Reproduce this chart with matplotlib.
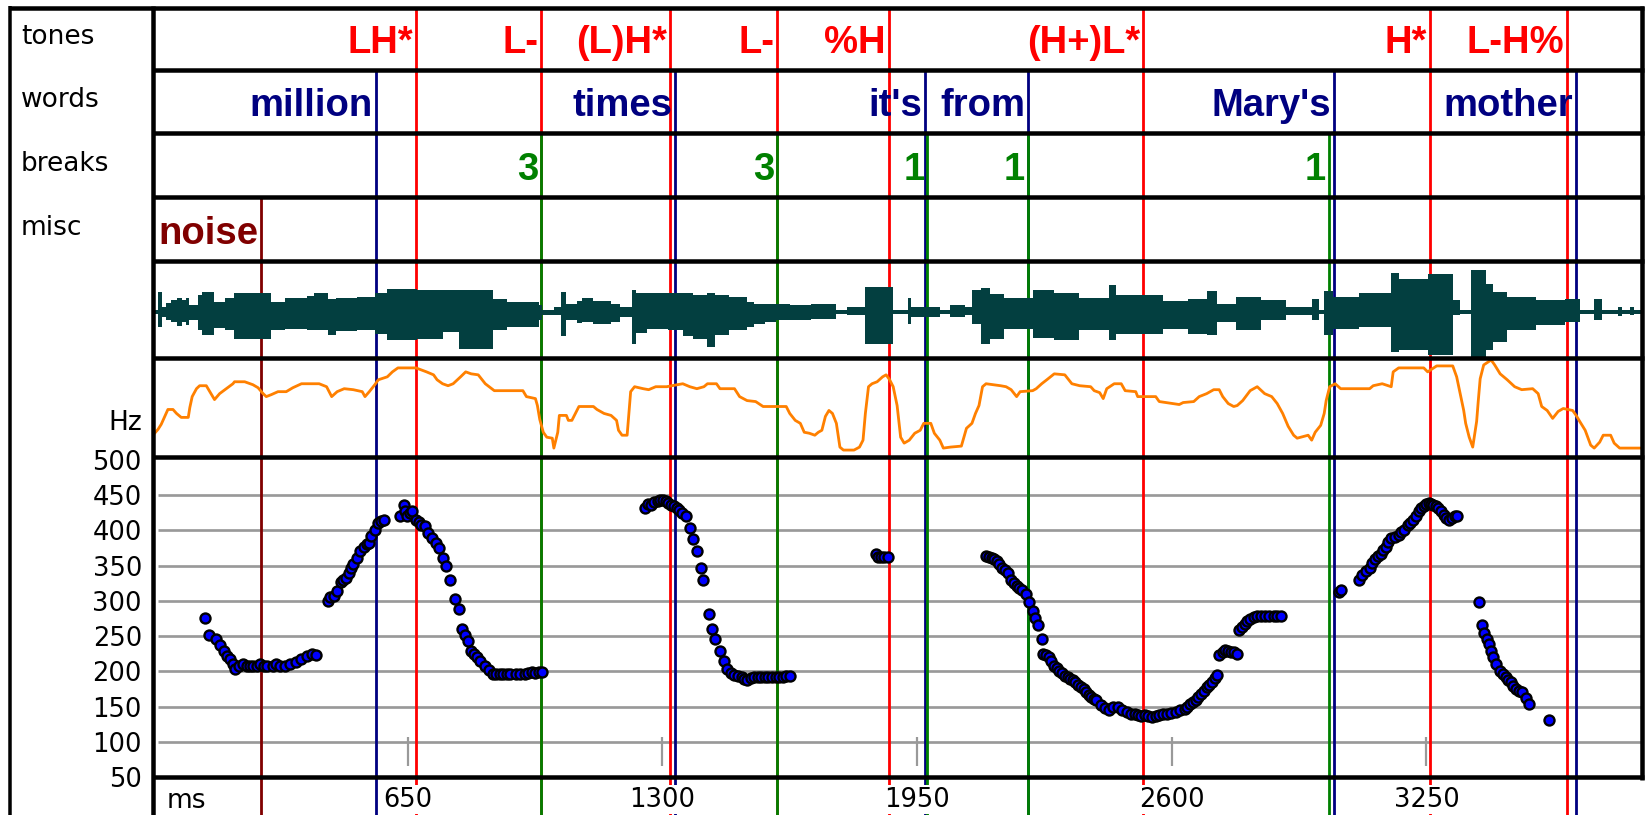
import numpy as np
import matplotlib.pyplot as plt
from matplotlib.lines import Line2D

# --- annotation tiers (boundary time in ms, label) ---
tone_times = [672, 990, 1320, 1593, 1878, 2527, 3258, 3609]
tone_labels = ['LH*', 'L-', '(L)H*', 'L-', '%H', '(H+)L*', 'H*', 'L-H%']
word_times = [568, 1333, 1969, 2233, 3014, 3632]
word_labels = ['million', 'times', "it's", 'from', "Mary's", 'mother']
break_times = [990, 1593, 1976, 2233, 3000]
break_labels = ['3', '3', '1', '1', '1']
misc_times = [276]
misc_labels = ['noise']

# --- waveform envelope (step), ms / amplitude ---
wave_t = [0, 14, 23, 33, 46, 60, 74, 83, 92, 115, 124, 156, 183, 206, 302, 338, 393, 411,
          447, 466, 520, 566, 598, 675, 739, 780, 867, 903, 985, 994, 1023, 1042, 1055,
          1083, 1096, 1124, 1169, 1192, 1222, 1233, 1260, 1315, 1352, 1379, 1415, 1434,
          1470, 1516, 1534, 1561, 1589, 1625, 1680, 1744, 1771, 1816, 1889, 1926, 1935,
          2008, 2035, 2072, 2090, 2113, 2135, 2172, 2245, 2300, 2363, 2439, 2457, 2578,
          2642, 2689, 2716, 2763, 2827, 2892, 2957, 2975, 2989, 3012, 3077, 3160, 3179,
          3253, 3317, 3336, 3364, 3401, 3419, 3456, 3530, 3604, 3641, 3678, 3697, 3740,
          3750, 3770, 3780, 3800]
wave_hi = [2, 20, 5, 9, 12, 14, 12, 14, 7, 17, 20, 10, 14, 19, 10, 14, 16, 19,
           13, 14, 15, 19, 23, 22, 22, 22, 13, 10, 7, 2, 5, 20, 8,
           11, 14, 11, 8, 5, 22, 19, 19, 19, 19, 17, 19, 17,
           15, 10, 8, 8, 8, 7, 8, 2, 5, 25, 2, 14, 5,
           2, 7, 5, 22, 24, 18, 14, 22, 19, 14, 27, 17, 11,
           13, 21, 8, 15, 12, 5, 13, 2, 21, 15, 19, 39, 33,
           38, 12, 2, 42, 28, 20, 15, 12, 13, 2, 13, 2, 5,
           2, 5, 2, 2]
wave_lo = [-2, -15, -5, -8, -10, -14, -10, -13, -8, -18, -23, -16, -18, -27, -18, -17, -18, -18,
           -23, -19, -18, -22, -28, -27, -20, -37, -18, -15, -8, -3, -3, -24, -8,
           -11, -10, -12, -10, -5, -32, -21, -17, -18, -24, -27, -35, -23,
           -18, -15, -12, -10, -8, -8, -7, -2, -3, -32, -2, -12, -5,
           -2, -5, -3, -12, -32, -27, -17, -26, -28, -18, -28, -22, -17,
           -22, -23, -10, -18, -8, -3, -8, -2, -23, -17, -15, -40, -38,
           -43, -3, -2, -45, -38, -30, -18, -13, -10, -2, -8, -2, -4,
           -2, -3, -2, -2]

# --- raw pitch track (ms / relative level) ---
track_t = [0, 2, 13, 21, 30, 38, 51, 60, 72, 90, 94, 100, 111, 119, 136, 145, 157, 170,
           187, 204, 208, 234, 255, 268, 281, 289, 302, 319, 340, 357, 379, 424, 443, 456,
           470, 488, 511,
           534, 541, 552, 566, 575, 598, 611, 625, 671, 698, 716, 725, 739, 753, 766, 785,
           798, 812, 830, 848, 871, 944, 953, 976, 981, 987, 996, 1005, 1019, 1023, 1033,
           1037, 1055, 1060, 1069, 1078, 1087, 1124, 1133, 1151, 1169, 1183, 1188, 1197,
           1210, 1215, 1219, 1229, 1251, 1265, 1283, 1311, 1324, 1352, 1370, 1388, 1406,
           1415, 1438, 1447, 1461, 1484, 1497, 1516, 1538, 1557, 1589, 1616, 1625, 1639,
           1652, 1662, 1675, 1689, 1698, 1707, 1716, 1725, 1734, 1744, 1753, 1762, 1789,
           1803, 1812, 1818, 1826, 1835, 1848, 1862, 1871, 1880, 1889, 1899, 1908, 1917,
           1930, 1944, 1958, 1967, 1985, 1994, 2008, 2017, 2035, 2063, 2076, 2090, 2099,
           2108, 2117, 2126, 2163, 2177, 2190, 2204, 2213, 2245, 2254, 2268, 2281, 2300,
           2327, 2345, 2365, 2393, 2402, 2416, 2425, 2434, 2453, 2471, 2481, 2508, 2513,
           2559, 2568, 2619, 2629, 2656, 2670, 2689, 2707, 2721, 2730, 2744, 2758, 2767,
           2781, 2800, 2818, 2837, 2855, 2869, 2883, 2897, 2911, 2920, 2948, 2957, 2966,
           2980, 2989, 2994, 3003, 3017, 3031, 3105, 3114, 3137, 3160, 3165, 3179, 3243,
           3253, 3276, 3317, 3327, 3336, 3345, 3350, 3359, 3368, 3378, 3382, 3387, 3396,
           3415, 3424, 3438, 3456, 3475, 3493, 3521, 3535, 3544, 3558, 3572, 3586, 3599,
           3623, 3632, 3641, 3655, 3669, 3678, 3692, 3701, 3720, 3729, 3743, 3800]
track_lvl = [4, 23, 28, 33, 41, 48, 48, 44, 40, 40, 50, 61, 69, 72, 72, 66, 58, 64,
             69, 74, 76, 76, 73, 70, 64, 61, 63, 66, 66, 70, 74, 74, 71, 61,
             66, 69, 68,
             66, 61, 66, 73, 78, 81, 86, 90, 90, 86, 83, 78, 74, 72, 74, 81,
             86, 84, 83, 74, 67, 67, 61, 59, 52, 38, 25, 20, 19, 9, 25,
             42, 42, 37, 37, 44, 51, 51, 48, 44, 42, 37, 27, 22,
             22, 47, 66, 71, 69, 68, 71, 71, 72, 74, 71, 69, 71,
             74, 74, 69, 69, 69, 61, 57, 56, 51, 51, 51, 44, 37,
             34, 25, 24, 22, 25, 27, 41, 47, 44, 34, 10, 7, 7,
             10, 17, 44, 71, 74, 76, 81, 83, 78, 71, 52, 20, 14,
             17, 24, 27, 34, 34, 24, 17, 9, 10, 11, 29, 34, 44,
             52, 71, 74, 72, 71, 68, 61, 66, 67, 69, 74, 78, 84,
             83, 74, 72, 71, 67, 65, 59, 69, 74, 74, 67, 66, 61,
             61, 56, 53, 55, 56, 61, 64, 68, 68, 61, 54, 51, 52,
             57, 67, 71, 64, 61, 54, 44, 31, 22, 19, 22, 17, 25,
             32, 44, 57, 71, 74, 69, 69, 72, 74, 71, 86, 90, 90,
             86, 92, 92, 81, 64, 47, 34, 20, 10, 36, 56, 79, 93,
             98, 93, 84, 78, 71, 68, 69, 64, 51, 47, 39, 46, 49,
             47, 42, 36, 27, 12, 9, 15, 22, 22, 14, 9, 9]

# --- F0 estimates (ms / Hz) ---
f0_t = [133, 142, 160, 172, 181, 189, 197, 205, 210, 220, 229, 240, 248, 256, 265, 274,
        283, 292, 306, 315, 324, 338, 350, 365, 378, 392, 405, 415,
        447, 452, 461, 470, 479, 486, 493, 500, 506, 511, 520, 529, 538, 545, 552, 557,
        566, 575, 582, 589,
        630, 640, 644, 648, 655, 662, 671, 678, 684, 694, 703, 712, 721, 730, 739, 748,
        757, 771, 780, 789, 796, 803, 812, 820, 826, 835, 848, 857, 867, 876, 885, 894,
        903, 912, 926, 937, 949, 958, 967, 976, 985, 992,
        1256, 1263, 1270, 1279, 1288, 1295, 1301, 1308, 1315, 1322, 1329, 1336, 1342,
        1351, 1361, 1370, 1377, 1388, 1399, 1404, 1420, 1427, 1434, 1447, 1456, 1466,
        1475, 1484, 1493, 1502, 1509, 1516, 1525, 1534, 1543, 1552, 1561, 1570, 1580,
        1589, 1598, 1607, 1616, 1625,
        1844, 1850, 1857, 1866, 1876,
        2126, 2133, 2140, 2147, 2154, 2160, 2167, 2174, 2181, 2190, 2197, 2204, 2211,
        2218, 2228, 2236, 2245, 2252, 2259, 2268, 2272, 2279, 2286, 2293, 2300, 2306,
        2313, 2320, 2327, 2334, 2341, 2347, 2354, 2361, 2368, 2375, 2382, 2389, 2395,
        2401, 2407, 2420, 2430, 2439, 2450, 2462, 2474, 2485, 2495, 2505, 2513, 2522,
        2531, 2540, 2550, 2559, 2568, 2578, 2587, 2597, 2610, 2622, 2633, 2640, 2647,
        2654, 2661, 2668, 2675, 2682, 2689, 2696, 2703, 2709, 2715, 2721, 2730, 2737,
        2744, 2752, 2760, 2767, 2772, 2779, 2786, 2793, 2800, 2809, 2818, 2828, 2837,
        2848, 2860, 2869, 2878,
        3026, 3031, 3077, 3086, 3095, 3105, 3112, 3119, 3126, 3133, 3140, 3146, 3153,
        3160, 3170, 3179, 3186, 3193, 3202, 3209, 3216, 3223, 3230, 3237, 3243, 3250,
        3257, 3262, 3267, 3274, 3280, 3287, 3294, 3301, 3308, 3316, 3322, 3327,
        3385, 3391, 3398, 3405, 3410, 3415, 3419, 3428, 3438, 3445, 3452, 3458, 3465,
        3472, 3479, 3487, 3495, 3503, 3512, 3562]
f0_hz = [275, 252, 246, 237, 229, 222, 217, 210, 203, 208, 210, 208, 208, 208, 208, 210,
         208, 208, 208, 210, 208, 208, 210, 213, 218, 222, 224, 223,
         300, 305, 307, 314, 326, 330, 333, 340, 347, 352, 361, 370, 377, 380, 382, 392,
         401, 410, 413, 415,
         420, 436, 428, 420, 425, 427, 415, 412, 408, 406, 396, 389, 382, 375, 361, 349,
         330, 302, 288, 260, 252, 243, 229, 224, 220, 214, 208, 202, 196, 196, 196, 196,
         196, 196, 196, 196, 196, 197, 199, 197, 199, 199,
         432, 437, 436, 440, 441, 443, 443, 441, 439, 436, 434, 431, 429,
         425, 420, 403, 387, 370, 347, 330, 281, 260, 246, 229, 215, 203,
         198, 195, 193, 192, 189, 187, 190, 192, 192, 192, 192, 192, 192,
         192, 192, 192, 193, 194,
         366, 362, 362, 362, 362,
         363, 362, 361, 359, 356, 352, 347, 344, 340, 330, 325, 321, 318,
         316, 309, 298, 286, 276, 265, 246, 225, 223, 220, 214, 208, 205,
         201, 197, 194, 192, 189, 187, 185, 181, 178, 175, 170, 167, 163,
         161, 159, 152, 148, 145, 150, 149, 145, 142, 140, 140, 138, 137,
         138, 136, 135, 137, 138, 139, 140, 141, 142, 145, 147, 150, 154,
         156, 159, 163, 168, 172, 178, 181, 185, 190, 195, 223, 227, 230,
         229, 227, 228, 225, 258, 263, 267, 271, 274, 277, 279, 279, 279,
         279, 279, 279, 279,
         312, 316, 330, 337, 342, 347, 353, 359, 363, 366, 372, 377, 383,
         389, 391, 394, 397, 401, 407, 411, 415, 421, 427, 431, 434, 437,
         439, 438, 436, 434, 432, 427, 422, 418, 415, 418, 420, 420,
         298, 265, 255, 246, 238, 229, 220, 210, 201, 196, 192, 188, 185,
         179, 175, 172, 170, 162, 154, 131]

hz_ticks = [50, 100, 150, 200, 250, 300, 350, 400, 450, 500]
hz_grid = [100, 150, 200, 250, 300, 350, 400, 450]
ms_ticks = [650, 1300, 1950, 2600, 3250]

T_END = 3800
W, H = 1648, 815
RED, NAVY, GREEN, MAROON = '#ff0000', '#000080', '#008000', '#800000'
WAVE = '#033f40'
ORANGE = '#ff8000'
GREY = '#999999'

tiers = [
    (tone_times, tone_labels, RED),
    (word_times, word_labels, NAVY),
    (break_times, break_labels, GREEN),
    (misc_times, misc_labels, MAROON),
]

X0, X1 = 153, 1642
rows = [(8, 70), (70, 133), (133, 197), (197, 261),   # tiers
        (261, 358), (358, 457), (457, 777), (777, 815)]  # wave, track, f0, ms


def px(p):
    return p * 72 / 100


def rect(top, bottom):
    return [X0 / W, 1 - bottom / H, (X1 - X0) / W, (bottom - top) / H]


def boundaries(ax, panel):
    for k, (times, _, c) in enumerate(tiers):
        if k <= panel:
            for t in times:
                ax.axvline(t, color=c, lw=px(2.8), zorder=2 + k * 0.1)


fig = plt.figure(figsize=(W / 100, H / 100), dpi=100)
fig.patch.set_facecolor('white')

# tier rows
for k, (times, labels, c) in enumerate(tiers):
    ax = fig.add_axes(rect(*rows[k]))
    ax.set_xlim(0, T_END)
    ax.set_ylim(0, 1)
    ax.axis('off')
    boundaries(ax, k)
    for t, lab in zip(times, labels):
        ax.annotate(lab, xy=(t, 0.27), xytext=(-2, 0), textcoords='offset points',
                    ha='right', va='baseline', color=c, fontsize=27.5,
                    fontweight='bold', family='Liberation Sans', zorder=5)

# waveform
ax_w = fig.add_axes(rect(*rows[4]))
ax_w.set_xlim(0, T_END)
ax_w.set_ylim(-46, 51)
ax_w.axis('off')
boundaries(ax_w, 4)
ax_w.fill_between(wave_t, wave_lo, wave_hi, step='post', color=WAVE, lw=0, zorder=4)

# raw pitch track
ax_p = fig.add_axes(rect(*rows[5]))
ax_p.set_xlim(0, T_END)
ax_p.set_ylim(0, 100)
ax_p.axis('off')
boundaries(ax_p, 5)
ax_p.plot(track_t, track_lvl, color=ORANGE, lw=px(2.8), zorder=4)

# ms row (boundaries only)
ax_m = fig.add_axes(rect(*rows[7]))
ax_m.set_xlim(0, T_END)
ax_m.set_ylim(0, 1)
ax_m.axis('off')
boundaries(ax_m, 7)

# F0 panel
ax = fig.add_axes(rect(*rows[6]))
ax.set_facecolor('none')
ax.set_xlim(0, T_END)
ax.set_ylim(52, 504)
for s in ax.spines.values():
    s.set_visible(False)
ax.hlines(hz_grid, 12, T_END, color=GREY, lw=px(2.7), zorder=1)
ax.vlines(ms_ticks, 65, 107, color=GREY, lw=px(2.2), zorder=1)
boundaries(ax, 6)
ax.scatter(f0_t, f0_hz, s=52, marker='o', color='#0000ff', edgecolors='black',
           linewidths=1.7, zorder=5, clip_on=False)
ax.set_yticks(hz_ticks)
ax.set_yticklabels([str(v) for v in hz_ticks])
ax.set_xticks(ms_ticks)
ax.set_xticklabels([str(v) for v in ms_ticks])
ax.tick_params(axis='y', length=0, pad=8, labelsize=18.5)
ax.tick_params(axis='x', length=0, pad=7, labelsize=18.5)
for lab in ax.get_xticklabels():
    lab.set_bbox(dict(facecolor='white', edgecolor='none', pad=1))

# frame and row dividers
def hline(y, x0=X0, x1=X1 + 2, lw=4.5):
    fig.add_artist(Line2D([x0 / W, x1 / W], [1 - y / H, 1 - y / H], color='black',
                          lw=px(lw), solid_capstyle='butt', zorder=10))


def vline(x, y0, y1, lw=4.5):
    fig.add_artist(Line2D([x / W, x / W], [1 - y0 / H, 1 - y1 / H], color='black',
                          lw=px(lw), solid_capstyle='butt', zorder=10))


hline(8, 8.5, X1 + 2)
for top, bottom in rows[1:7]:
    hline(top)
hline(777)
vline(10, 6, 815, lw=3.5)
vline(X0, 6, 815)
vline(X1, 6, 779.5)

# left-hand labels
for lab, yb in [('tones', 44), ('words', 107), ('breaks', 171), ('misc', 235)]:
    fig.text(21 / W, 1 - yb / H, lab, fontsize=19, va='baseline', family='DejaVu Sans')
fig.text(142 / W, 1 - 430 / H, 'Hz', fontsize=19, ha='right', va='baseline')
fig.text(167 / W, 1 - 808 / H, 'ms', fontsize=19, va='baseline')

fig.savefig('out.png', dpi=100)
